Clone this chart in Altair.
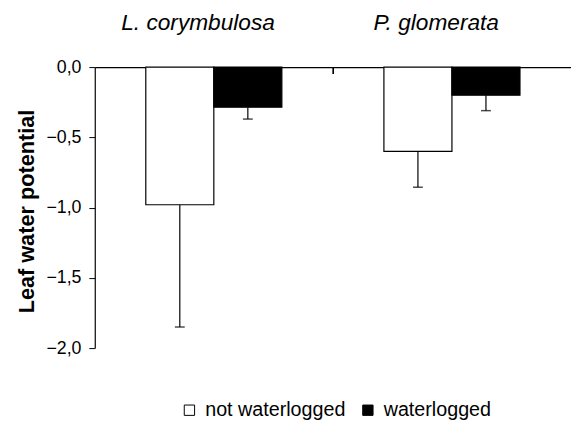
import altair as alt
import pandas as pd

species = ["L. corymbulosa", "L. corymbulosa", "P. glomerata", "P. glomerata"]
treatment = ["not waterlogged", "waterlogged", "not waterlogged", "waterlogged"]
mean = [-0.98, -0.285, -0.60, -0.20]
err = [0.87, 0.085, 0.255, 0.11]
y_ticks = [0.0, -0.5, -1.0, -1.5, -2.0]

df = pd.DataFrame({"species": species, "treatment": treatment, "mean": mean, "err": err})
df["low"] = df["mean"] - df["err"]

FONT = "Liberation Sans"

x_enc = alt.X("species:N", sort=["L. corymbulosa", "P. glomerata"],
              scale=alt.Scale(paddingInner=0, paddingOuter=0),
              axis=alt.Axis(orient="top", title=None, ticks=False, labelAngle=0,
                            labelFont=FONT, labelFontStyle="italic", labelFontSize=23,
                            labelColor="black", labelPadding=45, domainColor="black",
                            domainWidth=1.2, labelAlign="center", labelOffset=-16))
xoff = alt.XOffset("treatment:N", sort=["not waterlogged", "waterlogged"],
                   scale=alt.Scale(paddingInner=0, paddingOuter=0.75))

y_scale = alt.Scale(domain=[-2, 0], nice=False, zero=False)

bars = alt.Chart(df).mark_bar(stroke="black", strokeWidth=1.2).encode(
    x=x_enc,
    xOffset=xoff,
    y=alt.Y("mean:Q", scale=y_scale,
            axis=alt.Axis(values=y_ticks, title="Leaf water potential", grid=False,
                          labelExpr="replace(format(datum.value, '.1f'), '.', ',')",
                          labelFont=FONT, labelFontSize=18, labelColor="black",
                          tickColor="black", tickSize=6, domainColor="black",
                          domainWidth=1.2, labelPadding=8,
                          titleFont=FONT, titleFontSize=22, titleFontWeight="bold",
                          titleColor="black", titleX=-57, titleY=146)),
    y2=alt.value(0),
    fill=alt.Fill("treatment:N", sort=["not waterlogged", "waterlogged"],
                  scale=alt.Scale(domain=["not waterlogged", "waterlogged"],
                                  range=["white", "black"]),
                  legend=alt.Legend(title=None, orient="none", direction="horizontal",
                                    legendX=86, legendY=338, symbolType="square",
                                    symbolSize=110, symbolStrokeColor="black",
                                    symbolStrokeWidth=1, labelFont=FONT,
                                    labelFontSize=20, labelColor="black",
                                    columnPadding=12, labelOffset=6)),
)

whisk = alt.Chart(df).mark_rule(color="black", strokeWidth=1.2).encode(
    x=alt.X("species:N", sort=["L. corymbulosa", "P. glomerata"]),
    xOffset=xoff,
    y=alt.Y("low:Q", scale=y_scale),
    y2="mean:Q",
)

caps = alt.Chart(df).mark_tick(color="black", thickness=1.5, size=10).encode(
    x=alt.X("species:N", sort=["L. corymbulosa", "P. glomerata"]),
    xOffset=xoff,
    y=alt.Y("low:Q", scale=y_scale),
)

mid_tick = alt.Chart(df).mark_rule(color="black", strokeWidth=1.2).encode(
    x=alt.value(242), y=alt.value(0), y2=alt.value(7)
)

chart = alt.layer(whisk, caps, bars, mid_tick).properties(
    width=483, height=285,
    autosize=alt.AutoSizeParams(type="none"),
    padding={"left": 88, "top": 57, "right": 0, "bottom": 70},
).configure_view(stroke=None)

chart.save("out.html", embed_options={"renderer": "svg", "actions": False})
